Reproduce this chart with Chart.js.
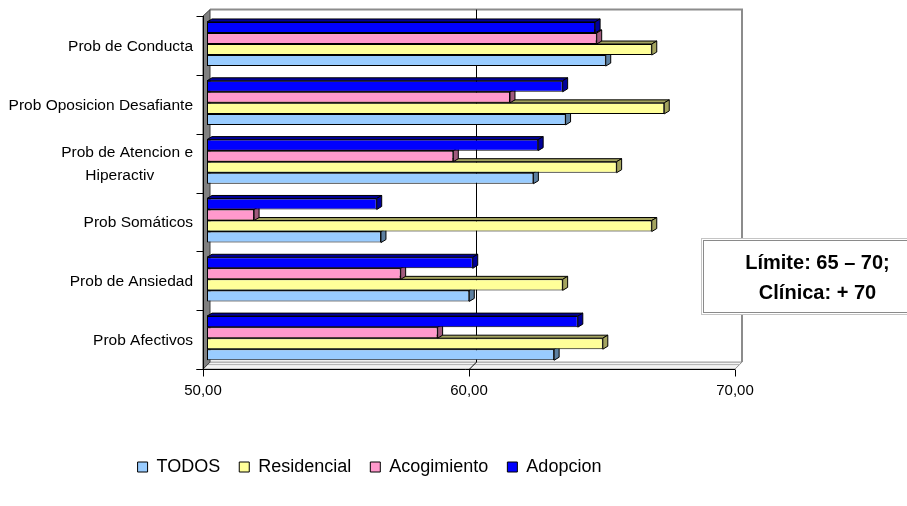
<!DOCTYPE html>
<html>
<head>
<meta charset="utf-8">
<script src="https://cdn.jsdelivr.net/npm/chart.js@4/dist/chart.umd.min.js"></script>
<style>
  html, body { margin: 0; padding: 0; background: #fff; }
  canvas { display: block; }
</style>
</head>
<body>
<canvas id="chart" width="907" height="506"></canvas>
<script>
// Categories (top to bottom) and the mean score of each group
const categories = [
  'Prob de Conducta',
  'Prob Oposicion Desafiante',
  ['Prob de Atencion e', 'Hiperactiv         '],
  'Prob Somáticos',
  'Prob de Ansiedad',
  'Prob Afectivos'
];
const todos       = [64.99, 63.48, 62.27, 56.54, 59.86, 63.05];
const residencial = [66.72, 67.19, 65.40, 66.72, 63.37, 64.88];
const acogimiento = [64.65, 61.39, 59.26, 51.77, 57.28, 58.67];
const adopcion    = [64.59, 63.37, 62.45, 56.38, 59.99, 63.94];
const axisTicks   = [50, 60, 70];
const noteLines   = ['Límite: 65 – 70;', 'Clínica: + 70'];

Chart.defaults.font.family = "'Liberation Sans', Arial, sans-serif";
Chart.defaults.color = '#000';

// Depth of the extruded bar faces
const DEPTH_X = 5, DEPTH_Y = -3;

// Back wall, floor, side wall and front axes of the 3-D frame
const frame3d = {
  id: 'frame3d',
  beforeDatasetsDraw(chart) {
    const { ctx, chartArea: ca, scales: { x } } = chart;
    const fx = v => x.getPixelForValue(v) - 4;   // front edge
    const bx = v => x.getPixelForValue(v) + 3;   // back wall
    const fTop = ca.top + 1.5, fBot = ca.bottom + 1.5;
    const bTop = ca.top - 5, bBot = ca.bottom - 5.5;
    const x0 = axisTicks[0], x1 = axisTicks[axisTicks.length - 1];
    ctx.save();

    // floor
    ctx.beginPath();
    ctx.moveTo(fx(x0), fBot);
    ctx.lineTo(bx(x0), bBot);
    ctx.lineTo(bx(x1), bBot);
    ctx.lineTo(fx(x1), fBot);
    ctx.closePath();
    ctx.fillStyle = '#f2f2f2';
    ctx.fill();
    ctx.strokeStyle = '#8c8c8c';
    ctx.lineWidth = 1;
    ctx.stroke();
    ctx.beginPath();
    ctx.moveTo(bx(x0) - 2, bBot + 2.5);
    ctx.lineTo(bx(x1) - 2, bBot + 2.5);
    ctx.strokeStyle = '#b0b0b0';
    ctx.stroke();

    // back wall outline
    ctx.beginPath();
    ctx.moveTo(bx(x0), bTop);
    ctx.lineTo(bx(x1), bTop);
    ctx.lineTo(bx(x1), bBot);
    ctx.strokeStyle = '#8c8c8c';
    ctx.lineWidth = 2;
    ctx.stroke();

    // interior gridlines on the wall and floor
    ctx.lineWidth = 1;
    ctx.strokeStyle = '#000';
    axisTicks.slice(1, -1).forEach(v => {
      ctx.beginPath();
      ctx.moveTo(Math.round(bx(v)) + 0.5, bTop);
      ctx.lineTo(Math.round(bx(v)) + 0.5, bBot);
      ctx.lineTo(Math.round(fx(v)) + 0.5, fBot);
      ctx.stroke();
    });

    // left side wall
    ctx.beginPath();
    ctx.moveTo(fx(x0), fTop);
    ctx.lineTo(bx(x0), bTop);
    ctx.lineTo(bx(x0), bBot);
    ctx.lineTo(fx(x0), fBot);
    ctx.closePath();
    ctx.fillStyle = '#808080';
    ctx.fill();
    ctx.strokeStyle = '#404040';
    ctx.stroke();

    // front axes and tick marks
    const ax = Math.round(fx(x0)) + 0.5, ay = Math.round(fBot) + 0.5;
    ctx.strokeStyle = '#000';
    ctx.beginPath();
    ctx.moveTo(ax, Math.round(fTop));
    ctx.lineTo(ax, ay + 7);
    ctx.moveTo(ax - 7, ay);
    ctx.lineTo(Math.round(fx(x1)), ay);
    const slot = (ca.bottom - ca.top) / categories.length;
    for (let i = 0; i <= categories.length; i++) {
      const ty = Math.round(fTop + i * slot) + 0.5;
      ctx.moveTo(ax - 7, ty);
      ctx.lineTo(ax, ty);
    }
    axisTicks.slice(1).forEach(v => {
      const tx = Math.round(fx(v)) + 0.5;
      ctx.moveTo(tx, ay);
      ctx.lineTo(tx, ay + 7);
    });
    ctx.stroke();
    ctx.restore();
  }
};

// Darker top and end faces that give every bar its depth
const barFaces = {
  id: 'barFaces',
  afterDatasetDraw(chart, args) {
    const ds = chart.data.datasets[args.index];
    const ctx = chart.ctx;
    ctx.save();
    ctx.fillStyle = ds.faceColor;
    ctx.strokeStyle = '#000';
    ctx.lineWidth = 1;
    ctx.lineJoin = 'round';
    args.meta.data.forEach(bar => {
      const { x, y, base, height } = bar.getProps(['x', 'y', 'base', 'height'], true);
      const t = y - height / 2, b = y + height / 2;
      ctx.beginPath();
      ctx.moveTo(base, t);
      ctx.lineTo(base + DEPTH_X, t + DEPTH_Y);
      ctx.lineTo(x + DEPTH_X, t + DEPTH_Y);
      ctx.lineTo(x, t);
      ctx.closePath();
      ctx.fill();
      ctx.stroke();
      ctx.beginPath();
      ctx.moveTo(x, t);
      ctx.lineTo(x + DEPTH_X, t + DEPTH_Y);
      ctx.lineTo(x + DEPTH_X, b + DEPTH_Y);
      ctx.lineTo(x, b);
      ctx.closePath();
      ctx.fill();
      ctx.stroke();
    });
    ctx.restore();
  }
};

// Framed note with the clinical cut-off values
const noteBox = {
  id: 'noteBox',
  afterDraw(chart) {
    const { ctx, chartArea: ca } = chart;
    const left = ca.right - 38, top = 238, bottom = 314, right = left + 233;
    ctx.save();
    ctx.fillStyle = '#fff';
    ctx.fillRect(left, top, right - left, bottom - top);
    ctx.lineWidth = 1;
    ctx.strokeStyle = '#c4c4c4';
    ctx.strokeRect(left + 0.5, top + 0.5, right - left, bottom - top);
    ctx.strokeStyle = '#8a8a8a';
    ctx.strokeRect(left + 2.5, top + 2.5, right - left - 4, bottom - top - 4);
    ctx.fillStyle = '#000';
    ctx.font = "bold 20px 'Liberation Sans', Arial, sans-serif";
    ctx.textAlign = 'center';
    ctx.textBaseline = 'middle';
    const cx = left + 116.5;
    noteLines.forEach((line, i) => ctx.fillText(line, cx, top + 25 + i * 30));
    ctx.restore();
  }
};

const fmt = v => Number(v).toFixed(2).replace('.', ',');
const noAxisPadding = s => { s.paddingTop = 0; s.paddingBottom = 0; s.paddingLeft = 0; s.paddingRight = 0; };

new Chart(document.getElementById('chart'), {
  type: 'bar',
  data: {
    labels: categories,
    datasets: [
      { label: 'Adopcion',    data: adopcion,    backgroundColor: '#0000ff', faceColor: '#000099' },
      { label: 'Acogimiento', data: acogimiento, backgroundColor: '#ff99cc', faceColor: '#a05a7d' },
      { label: 'Residencial', data: residencial, backgroundColor: '#ffff99', faceColor: '#a3a35e' },
      { label: 'TODOS',       data: todos,       backgroundColor: '#99ccff', faceColor: '#5c7fa0' }
    ].map(d => Object.assign(d, {
      base: axisTicks[0],
      borderColor: '#000',
      borderWidth: 1,
      borderSkipped: false,
      barPercentage: 1,
      categoryPercentage: 0.75
    }))
  },
  options: {
    indexAxis: 'y',
    responsive: false,
    animation: false,
    layout: { padding: { top: 14.6, right: 168, bottom: 20, left: 0 } },
    scales: {
      x: {
        type: 'linear',
        min: axisTicks[0],
        max: axisTicks[axisTicks.length - 1],
        afterBuildTicks: s => { s.ticks = axisTicks.map(v => ({ value: v })); },
        afterFit: s => { s.height = 71.4; noAxisPadding(s); },
        grid: { display: false, drawTicks: false },
        border: { display: false },
        ticks: {
          font: { size: 15 },
          color: '#000',
          padding: 14,
          labelOffset: -4,
          maxRotation: 0,
          callback: v => fmt(v)
        }
      },
      y: {
        afterFit: s => { s.width = 207; noAxisPadding(s); },
        grid: { display: false, drawTicks: false },
        border: { display: false },
        ticks: {
          font: { size: 15.5, lineHeight: 1.5 },
          color: '#000',
          padding: 14,
          labelOffset: 2.5
        }
      }
    },
    plugins: {
      legend: {
        position: 'bottom',
        reverse: true,
        labels: {
          boxWidth: 10,
          boxHeight: 10,
          padding: 19,
          color: '#000',
          font: { size: 18 }
        }
      },
      tooltip: { enabled: false }
    }
  },
  plugins: [frame3d, barFaces, noteBox]
});
</script>
</body>
</html>
